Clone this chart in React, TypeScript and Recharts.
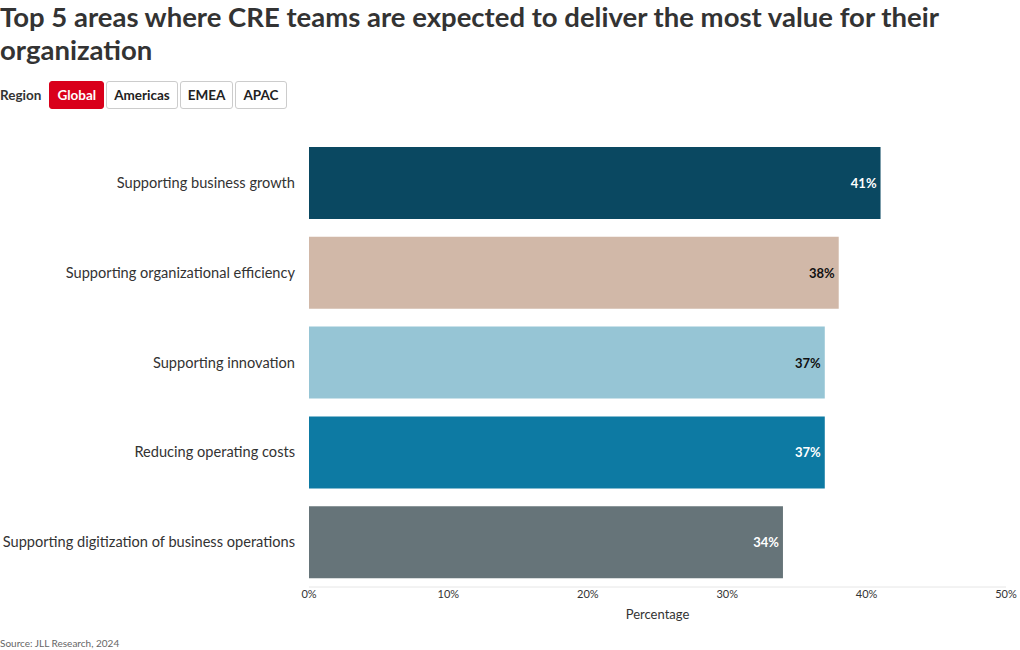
import { BarChart, Bar, XAxis, YAxis, Cell, LabelList } from "recharts";

const areas = [
  "Supporting business growth",
  "Supporting organizational efficiency",
  "Supporting innovation",
  "Reducing operating costs",
  "Supporting digitization of business operations",
];
const shares = [41, 38, 37, 37, 34];
const barColors = ["#0a4861", "#d1b8a8", "#96c5d5", "#0d7aa3", "#667479"];
const labelColors = ["#ffffff", "#111111", "#111111", "#ffffff", "#ffffff"];
const xTicks = [0, 10, 20, 30, 40, 50];
const regions = ["Global", "Americas", "EMEA", "APAC"];

const data = areas.map((name, i) => ({ name, value: shares[i] }));

const FONT = "Lato, 'Noto Sans', sans-serif";

const ValueLabel = (props: any) => {
  const { x, y, width, height, index, value } = props;
  return (
    <text
      x={x + width - 4}
      y={y + height / 2}
      textAnchor="end"
      dominantBaseline="central"
      fontSize={13}
      fontWeight={700}
      fill={labelColors[index]}
      fontFamily={FONT}
    >
      {value}%
    </text>
  );
};

const App = () => {
  return (
    <div style={{ position: "absolute", left: 0, top: 0, width: 1020, height: 650, background: "#fff", fontFamily: FONT, color: "#333" }}>
      <div style={{ position: "absolute", left: 0, top: 0, width: 1015, fontSize: 27.5, fontWeight: 700, lineHeight: "33px", color: "#333" }}>
        Top 5 areas where CRE teams are expected to deliver the most value for their
        <br />
        organization
      </div>
      <div style={{ position: "absolute", left: 0, top: 81, display: "flex", alignItems: "center", fontSize: 13.5, fontWeight: 700 }}>
        <span style={{ marginRight: 8, color: "#333" }}>Region</span>
        {regions.map((r, i) => (
          <span
            key={r}
            style={{
              boxSizing: "border-box",
              height: 28,
              lineHeight: "26px",
              padding: "0 7px",
              marginRight: 2,
              borderRadius: 3,
              border: i === 0 ? "1px solid #d9001b" : "1px solid #cccccc",
              background: i === 0 ? "#d9001b" : "#fff",
              color: i === 0 ? "#fff" : "#222",
            }}
          >
            {r}
          </span>
        ))}
      </div>
      <div style={{ position: "absolute", left: 0, top: 120 }}>
        <BarChart
          width={1020}
          height={530}
          data={data}
          layout="vertical"
          barCategoryGap="10%"
          margin={{ top: 18, right: 14, bottom: 18, left: 0 }}
        >
          <XAxis
            type="number"
            domain={[0, 50]}
            ticks={xTicks}
            tickFormatter={(v) => `${v}%`}
            tickLine={false}
            tickSize={0}
            tickMargin={3}
            axisLine={{ stroke: "#e6e6e6" }}
            tick={{ fontSize: 11, fill: "#333", fontFamily: FONT }}
            height={45}
            label={{ value: "Percentage", position: "insideBottom", offset: 13, fontSize: 13, fill: "#333", fontFamily: FONT }}
          />
          <YAxis
            type="category"
            dataKey="name"
            width={309}
            axisLine={false}
            tickLine={false}
            tickSize={0}
            tickMargin={14}
            tick={{ fontSize: 14.6, fill: "#333", fontFamily: FONT }}
          />
          <Bar dataKey="value" isAnimationActive={false}>
            {data.map((d, i) => (
              <Cell key={d.name} fill={barColors[i]} />
            ))}
            <LabelList dataKey="value" content={<ValueLabel />} />
          </Bar>
        </BarChart>
      </div>
      <div style={{ position: "absolute", left: 0, top: 637, fontSize: 10, color: "#666" }}>Source: JLL Research, 2024</div>
    </div>
  );
};

export default App;
